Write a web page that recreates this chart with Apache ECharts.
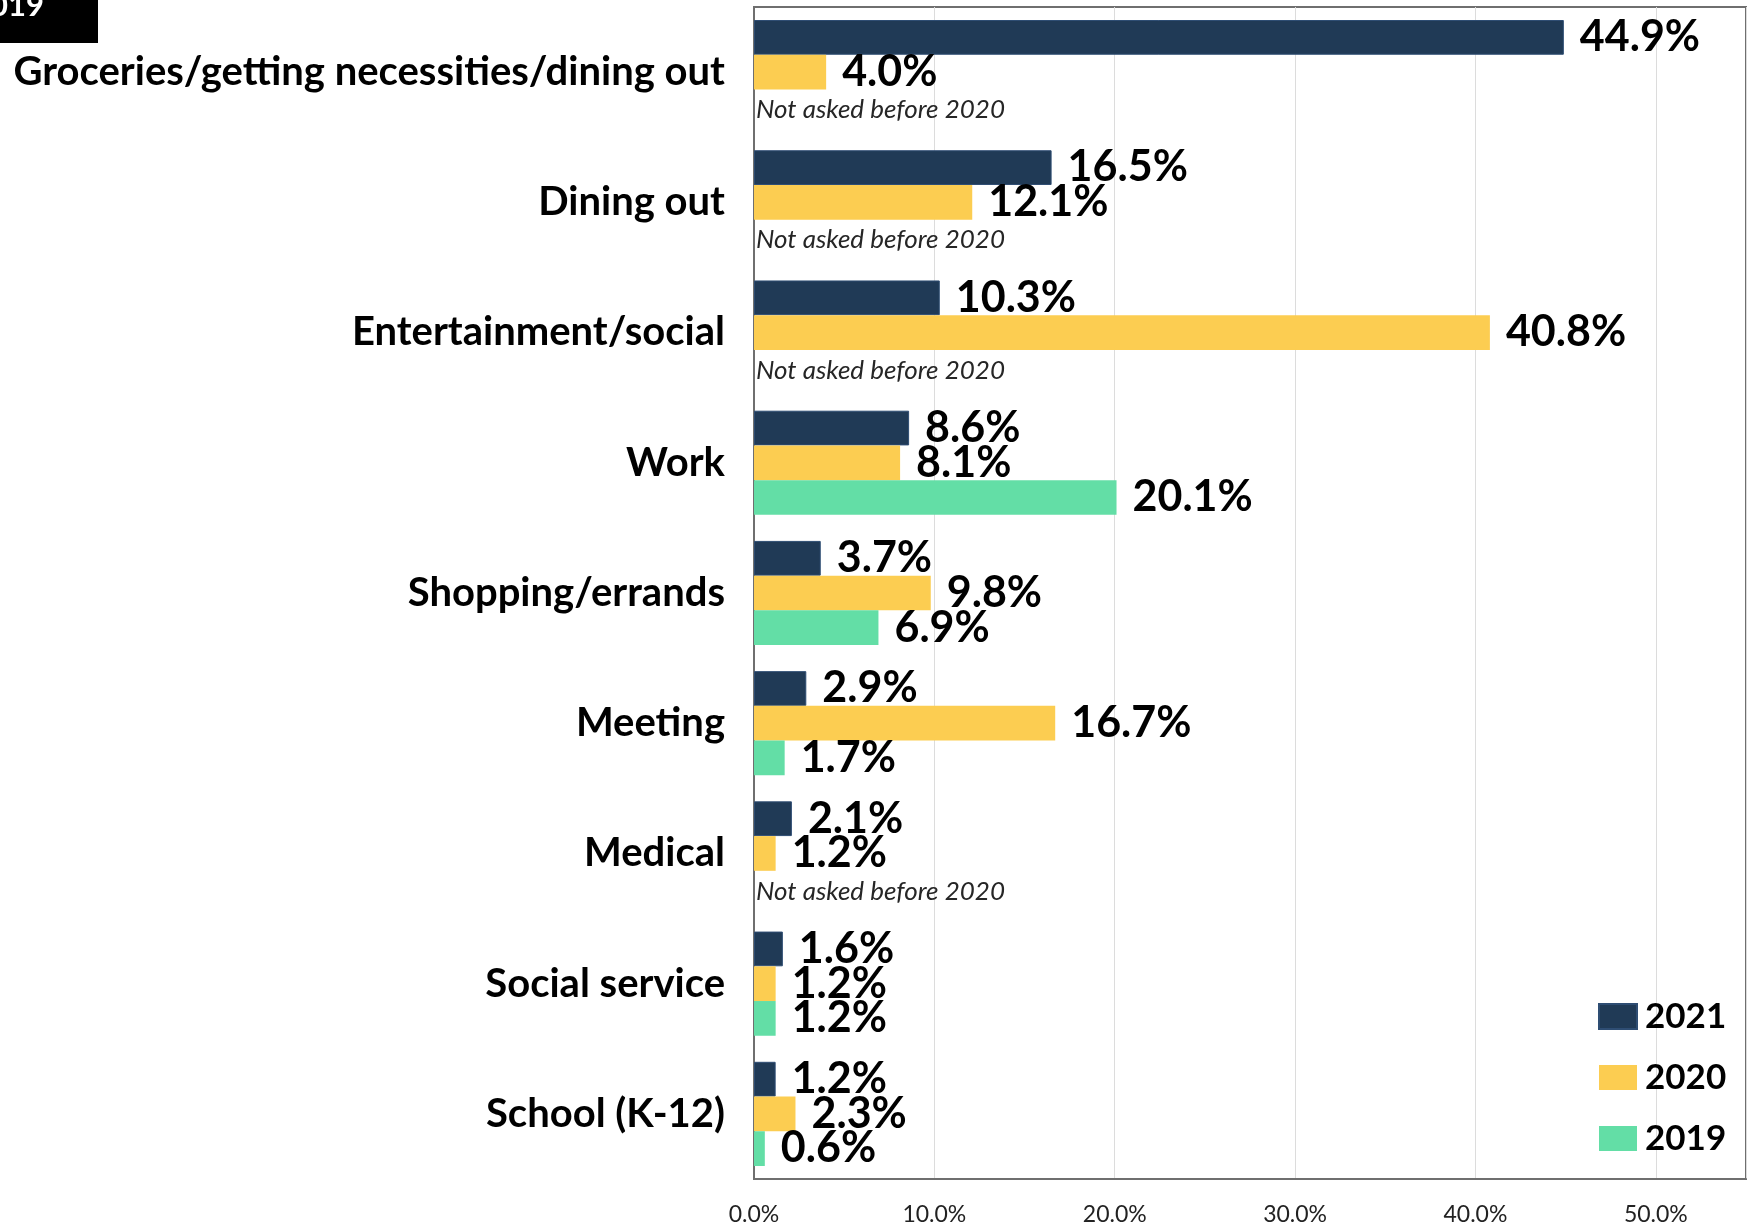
<!DOCTYPE html>
<html>
<head>
<meta charset="utf-8">
<script src="https://cdn.jsdelivr.net/npm/echarts@6/dist/echarts.min.js"></script>
<style>
  html, body { margin: 0; padding: 0; background: #ffffff; }
  #chart { width: 1749px; height: 1227px; }
</style>
</head>
<body>
<div id="chart"></div>
<script>
// Trip purposes, share of respondents by survey year
const categories = [
  'Groceries/getting necessities/dining out',
  'Dining out',
  'Entertainment/social',
  'Work',
  'Shopping/errands',
  'Meeting',
  'Medical',
  'Social service',
  'School (K-12)'
];
const values2021 = [44.9, 16.5, 10.3, 8.6, 3.7, 2.9, 2.1, 1.6, 1.2];
const values2020 = [4.0, 12.1, 40.8, 8.1, 9.8, 16.7, 1.2, 1.2, 2.3];
// null = question not asked in 2019
const values2019 = [null, null, null, 20.1, 6.9, 1.7, null, 1.2, 0.6];
const xTicks = [0, 10, 20, 30, 40, 50];
const notAskedText = 'Not asked before 2020';

const FONT = 'Lato';
const colors = { y2021: '#203a56', y2020: '#fccd51', y2019: '#63dea6' };

const valueLabel = {
  show: true,
  position: 'right',
  distance: 16,
  fontFamily: FONT,
  fontWeight: 'bold',
  fontSize: 43,
  color: '#000000',
  padding: [3, 0, 0, 0],
  formatter: p => p.value.toFixed(1) + '%'
};

// missing 2019 answers get a note in place of the bar
const data2019 = values2019.map(v => v === null
  ? { value: 0, label: { show: true, position: 'right', distance: 2, offset: [0, 3], padding: 0,
      formatter: notAskedText, fontFamily: FONT, fontStyle: 'italic', fontWeight: 'normal',
      fontSize: 26, color: '#262626' } }
  : v);

const chart = echarts.init(document.getElementById('chart'), null, { renderer: 'canvas' });
chart.setOption({
  backgroundColor: '#ffffff',
  animation: false,
  grid: {
    left: 754, right: -3, top: 7, bottom: 48,
    show: true, borderColor: '#6f6f6f', borderWidth: 2, containLabel: false
  },
  legend: {
    orient: 'vertical',
    left: 1593, top: 994,
    icon: 'rect',
    itemWidth: 38, itemHeight: 25, itemGap: 26,
    data: ['2021', '2020', '2019'],
    textStyle: { fontFamily: FONT, fontWeight: 'bold', fontSize: 35, color: '#000', padding: [0, 0, 0, 3] }
  },
  xAxis: {
    type: 'value',
    min: 0, max: 55, interval: 10,
    axisLine: { show: true, lineStyle: { color: '#6f6f6f', width: 2 } },
    axisTick: { show: false },
    splitLine: { show: true, lineStyle: { color: '#dcdcdc', width: 1 } },
    axisLabel: {
      margin: 24,
      fontFamily: FONT, fontSize: 23, color: '#222',
      formatter: v => xTicks.includes(v) ? v.toFixed(1) + '%' : ''
    }
  },
  yAxis: {
    type: 'category',
    inverse: true,
    data: categories,
    axisLine: { show: true, lineStyle: { color: '#6f6f6f', width: 2 } },
    axisTick: { show: false },
    axisLabel: {
      margin: 29,
      padding: [6, 0, 0, 0],
      fontFamily: FONT, fontWeight: 'bold', fontSize: 40, color: '#000'
    }
  },
  series: [
    {
      name: '2021', type: 'bar', data: values2021,
      barGap: '0%', barCategoryGap: '20%',
      itemStyle: { color: colors.y2021, borderColor: '#2e4d73', borderWidth: 1 },
      label: valueLabel
    },
    {
      name: '2020', type: 'bar', data: values2020,
      barGap: '0%', barCategoryGap: '20%',
      itemStyle: { color: colors.y2020 },
      label: valueLabel
    },
    {
      name: '2019', type: 'bar', data: data2019,
      barGap: '0%', barCategoryGap: '20%',
      itemStyle: { color: colors.y2019 },
      label: valueLabel
    }
  ],
  graphic: [
    { type: 'rect', left: 0, top: 0, shape: { x: 0, y: 0, width: 98, height: 43 }, style: { fill: '#000' } },
    { type: 'text', x: 44, y: 21, style: { text: '2019', fill: '#fff', font: 'bold 31px Lato', textAlign: 'right', textVerticalAlign: 'bottom' } }
  ]
});
</script>
</body>
</html>
